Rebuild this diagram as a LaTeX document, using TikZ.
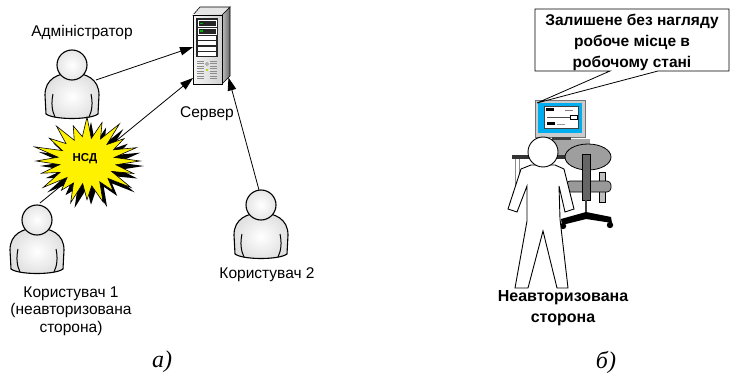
\documentclass[tikz,border=0pt]{standalone}
\usepackage{fontspec}
\setmainfont{Liberation Sans}
\newfontfamily\capserif{Liberation Serif}
\usetikzlibrary{arrows.meta,shapes.geometric}

\tikzset{
  lbl/.style={inner sep=0pt, align=center, font=\fontsize{15.5}{17.5}\selectfont},
  blbl/.style={inner sep=0pt, align=center, font=\fontsize{16}{20.5}\selectfont\bfseries},
  caption/.style={inner sep=0pt, font=\fontsize{24}{26}\selectfont\capserif\itshape},
  link/.style={line width=0.8pt, -{Triangle[length=13pt,width=8.5pt]}},
  outline/.style={draw=black, line width=1.1pt},
  usericon/.pic={
    % body with soft grey shading
    \path[outline, inner color=white, outer color=black!12]
      (-26,49) -- (-27,30) .. controls (-27,14) and (-14,8) .. (0,8)
      .. controls (14,8) and (27,14) .. (27,30) -- (26,49)
      .. controls (18,55) and (-18,55) .. (-26,49) -- cycle;
    \draw[line width=1pt] (-19,29) .. controls (-21,38) and (-20,46) .. (-17,52);
    \draw[line width=1pt] (19,29) .. controls (21,38) and (20,46) .. (17,52);
    % head
    \path[outline, inner color=white, outer color=black!10] (0,0) circle (15);
  }
}

% outline of the burst: angle / relative radius
\def\burstpts{9/0.55,18/0.92,27/0.52,36/1.02,45/0.56,54/0.84,63/0.53,72/0.98,81/0.57,
      90/0.88,99/0.52,108/1.00,117/0.56,126/0.82,135/0.53,144/1.02,153/0.57,162/0.90,171/0.52,
      180/0.96,189/0.55,198/1.04,207/0.52,216/0.88,225/0.56,234/0.98,243/0.53,252/0.84,261/0.56,
      270/1.00,279/0.52,288/0.92,297/0.56,306/1.04,315/0.53,324/0.86,333/0.56,342/0.98,351/0.52}

\begin{document}
\begin{tikzpicture}[x=1pt,y=-1pt]
\useasboundingbox (0,0) rectangle (730,374);

%% ---------- left scheme ----------
% anchor points of the connectors
\coordinate (adminout) at (96,80);
\coordinate (userAout) at (40,203);
\coordinate (userBout) at (259,190);
\coordinate (srvA) at (193,47);
\coordinate (srvB) at (193,78);
\coordinate (srvC) at (228.5,77.5);

% connectors
\draw[link] (adminout) -- (srvA);
\draw[link] (userAout) -- (srvB);
\draw[link] (userBout) -- (srvC);

% server tower
\path[draw=black, line width=0.6pt, left color=black!25, right color=black!60]
  (222,15) -- (230,7) -- (230,76) -- (222,84) -- cycle;
\path[draw=black, line width=0.6pt, fill=black!10]
  (193,15) -- (200,7) -- (230,7) -- (222,15) -- cycle;
\path[draw=black, line width=0.6pt, left color=black!4, right color=black!18]
  (193,15) rectangle (222,84);
\fill[black!85] (196,18) rectangle (218,57);
\draw[white, line width=0.5pt] (198,20.5) rectangle (216,26.5);
\draw[white, line width=0.5pt] (198,28) rectangle (216,34);
\foreach \yy in {36,41.5,47,52.5}
  \fill[white] (198,\yy) rectangle (216,\yy+3.6);
\fill[green!70!black] (200,23) rectangle (202.5,24.5);
\fill[green!70!black] (200,30.5) rectangle (202.5,32);
\foreach \yy in {61,63.5,...,78.5} {
  \draw[black!45, line width=0.5pt] (197,\yy) -- (204,\yy);
  \draw[black!45, line width=0.5pt] (210,\yy) -- (217,\yy);
}
\draw[black!50, line width=0.4pt] (207,64) circle (1.5);
\fill[yellow!70!green] (206,69) rectangle (208,71);
\node[lbl] (server) at (207,114) {Сервер};

% administrator
\pic at (72,65) {usericon};
\node[lbl] (admin) at (82,32) {Адміністратор};

% burst marking the unauthorised access, with its black shadow
\fill[black, shift={(4,5)}]
  ({87+53*1.00},161)
  \foreach \ang/\rr in \burstpts
  { -- ({87+53*\rr*cos(\ang)},{161+44*\rr*sin(\ang)}) } -- cycle;
\filldraw[fill=yellow, draw=black, line width=0.6pt]
  ({87+53*1.00},161)
  \foreach \ang/\rr in \burstpts
  { -- ({87+53*\rr*cos(\ang)},{161+44*\rr*sin(\ang)}) } -- cycle;
\node[inner sep=0pt, font=\fontsize{11.5}{12}\selectfont\bfseries] (nsd) at (85,159) {НСД};

% users
\pic at (37,220) {usericon};
\node[lbl] (userA) at (71,311) {Користувач 1\\(неавторизована\\сторона)};
\pic at (261,205) {usericon};
\node[lbl] (userB) at (267,275) {Користувач 2};

\node[caption] (capa) at (162,362) {а)};

%% ---------- right scene ----------
% desk
\draw[black!45, line width=1pt] (515,158) -- (515,192);
\draw[black!45, line width=1pt] (519,158) -- (519,192);
\fill[black!35] (548,139) rectangle (590,156);
\fill[black!80] (512,155.5) rectangle (572,159.5);

% monitor
\filldraw[fill=black!20, draw=black!55, line width=0.5pt] (535,100) rectangle (585,137);
\fill[cyan] (538,103) rectangle (582,133);
\filldraw[fill=white, draw=black!75, line width=0.9pt] (544,106) rectangle (578,128);
\fill[black] (546,108.5) rectangle (554,111);
\draw[black!50, line width=0.6pt] (565,110) -- (573,110);
\draw[black!70, line width=0.7pt] (547,117) -- (570,117);
\filldraw[fill=white, draw=black, line width=0.8pt] (570,115) rectangle (577,119);
\fill[black] (547,122.5) rectangle (555,125);
\draw[black!40, line width=0.5pt] (557,124) -- (565,124);
\fill[black!75] (552,137) rectangle (571,140);

% chair
\filldraw[fill=black!25, draw=black, line width=0.7pt] (599,172) rectangle (605,202);
\filldraw[fill=black!40, draw=black, line width=0.7pt, rounded corners=4pt]
  (566,181) rectangle (611,192);
\filldraw[fill=black!38, draw=black, line width=0.8pt] (588,157) ellipse [x radius=23, y radius=13];
\filldraw[fill=black!60, draw=black, line width=0.7pt] (582,154) rectangle (590,200);
\draw[black!75, line width=1.5pt] (586,200) -- (586,214);
\fill[black] (586,212) -- (611,217) -- (612,223) -- (586,219) -- (562,225) -- (561,219) -- cycle;
\fill[black] (563,226) circle (3.2);
\fill[black] (610,225) circle (3.2);

% person seen from behind
\filldraw[fill=white, draw=black, line width=0.9pt]
  (531,165) -- (521,169) -- (508,209) -- (517,212) -- (527,186) -- (527,221)
  -- (515,288) -- (528,288) -- (543,231) -- (557,288) -- (568,288) -- (560,219)
  -- (559,186) -- (565,212) -- (574,209) -- (564,169) -- (555,165) -- cycle;
\filldraw[fill=white, draw=black, line width=0.9pt] (543,152) circle (15);
\node[blbl] (intruder) at (563,308) {Неавторизована\\сторона};

% callout
\filldraw[fill=white, draw=black, line width=0.8pt]
  (535,9) -- (729,9) -- (729,71) -- (658,71) -- (537,103) -- (610,71) -- (535,71) -- cycle;
\node[blbl, font=\fontsize{15.5}{21}\selectfont\bfseries] (note) at (632,42)
  {Залишене без нагляду\\робоче місце в\\робочому стані};

\node[caption] (capb) at (606,362) {б)};
\end{tikzpicture}
\end{document}
